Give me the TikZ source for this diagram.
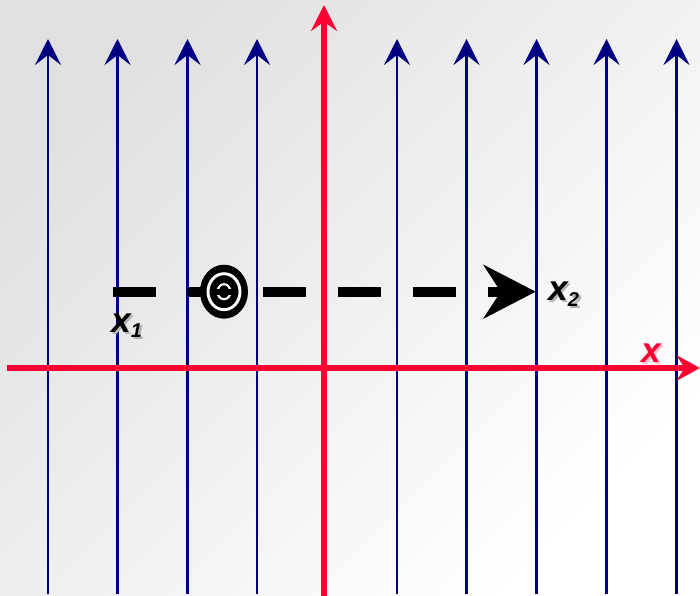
\documentclass[tikz,border=0pt]{standalone}
\usepackage{fontspec}
\setmainfont{Liberation Sans}
\usetikzlibrary{arrows.meta}
\definecolor{navy}{RGB}{0,0,128}
\definecolor{axred}{RGB}{255,0,51}
\begin{document}
\begin{tikzpicture}[x=0.75pt,y=-0.75pt,
  fieldline/.style={draw=navy,line width=1.8pt,-{Stealth[length=19.5pt,width=19.5pt,inset=7.5pt]}},
  axisline/.style={draw=axred,line width=4.2pt},
  moveline/.style={draw=black,line width=7.5pt,dash pattern=on 32.25pt off 24pt,
     -{Stealth[length=39pt,width=40pt,inset=12.75pt]}},
  lbl/.style={font=\fontsize{26.5}{26.5}\selectfont\bfseries\itshape,inner sep=0pt,anchor=base west},
  shadowlbl/.style={lbl,text=black!30}]
\useasboundingbox (0,0) rectangle (700,596);
\shade[top color=black!12,bottom color=white,shading angle=45] (0,0) rectangle (700,596);
% field lines
\foreach \i/\xx in {1/48,2/117.5,3/187.5,4/257,5/397,6/466.5,7/536.5,8/606.5,9/676.5}{
  \coordinate (b\i) at (\xx,594);
  \coordinate (t\i) at (\xx,39);
  \draw[fieldline] (b\i) -- (t\i);
}
% axes
\coordinate (yb) at (324,596);
\coordinate (yt) at (324,5);
\coordinate (xl) at (7,368);
\coordinate (xr) at (700,368);
\draw[axisline,-{Stealth[length=19.5pt,width=19.5pt,inset=7pt]}] (yb) -- (yt);
\draw[axisline,-{Stealth[length=17.5pt,width=19pt,inset=6pt]}] (xl) -- (xr);
% motion path
\coordinate (p1) at (113,291.7);
\coordinate (p2) at (535.7,291.7);
\draw[moveline] (p1) -- (p2);
% target (charge)
\coordinate (tc) at (224,291.7);
\fill[black] (tc) ellipse [x radius=24,y radius=27];
\draw[white,line width=2.2pt] (tc) ellipse [x radius=16,y radius=18];
\draw[white,line width=1.6pt] (tc) ellipse [x radius=6.5,y radius=7.5];
\fill[black] (214,288.5) rectangle (234,295);
% labels
\node[shadowlbl] (x1s) at (113.5,334) {x\raisebox{-4pt}{\fontsize{15}{15}\selectfont 1}};
\node[lbl] (x1) at (111,332) {x\raisebox{-4pt}{\fontsize{15}{15}\selectfont 1}};
\node[shadowlbl] (x2s) at (550.5,302) {x\raisebox{-4.5pt}{\fontsize{15}{15}\selectfont 2}};
\node[lbl] (x2) at (548,300) {x\raisebox{-4.5pt}{\fontsize{15}{15}\selectfont 2}};
\node[shadowlbl,text=axred!25] (xas) at (643.5,364) {x};
\node[lbl,text=axred] (xa) at (641,362) {x};
\end{tikzpicture}
\end{document}
